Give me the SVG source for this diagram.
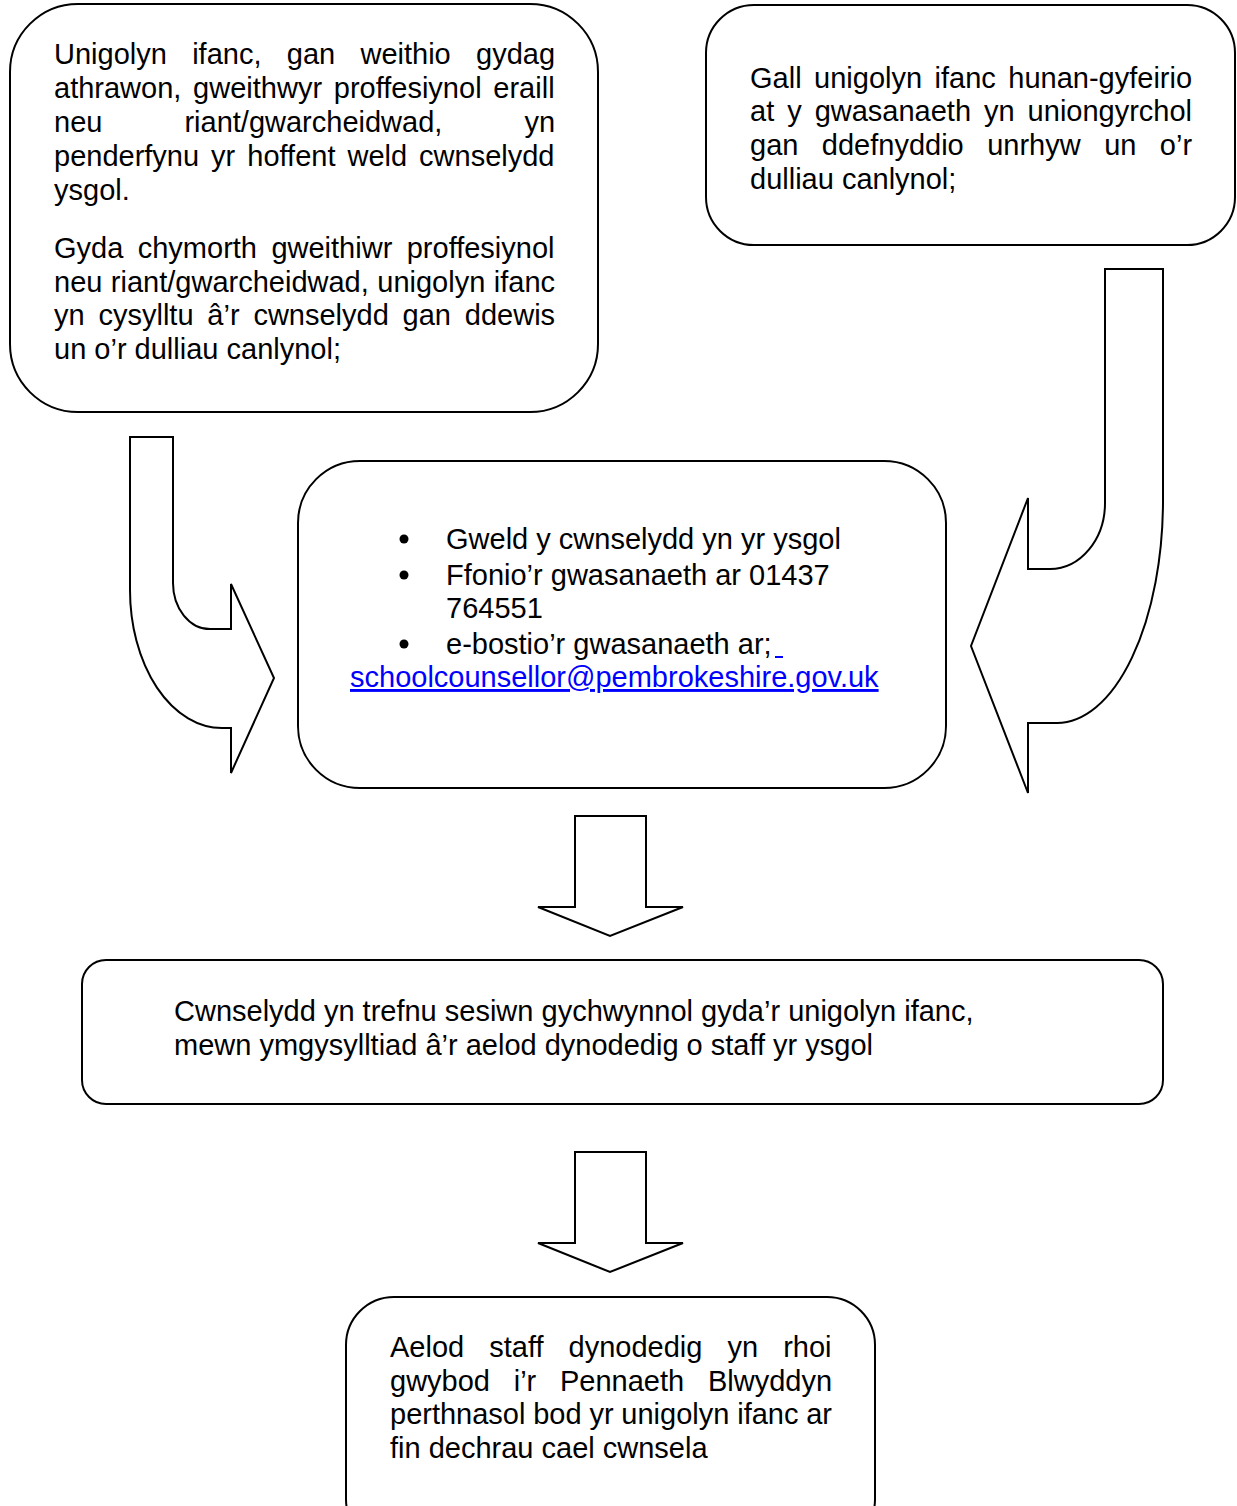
<svg xmlns="http://www.w3.org/2000/svg" width="1237" height="1506" viewBox="0 0 1237 1506">
<style>
.box{fill:#fff;stroke:#000;stroke-width:2}
.arrow{fill:#fff;stroke:#000;stroke-width:2;stroke-linejoin:miter}
text{font-family:"Liberation Sans",Arial,sans-serif;font-size:29px;fill:#000}
.link{fill:#0000ff;text-decoration:underline}
</style>
<rect width="1237" height="1506" fill="#fff"/>
<g id="connectors">
<path class="arrow" d="M130,437 L173,437 L173,583 A37,46 0 0 0 210,629 L231,629 L231,584 L274,678 L231,773 L231,728 L222,728 A92,138 0 0 1 130,590 Z"/>
<path class="arrow" d="M1105,269 L1163,269 L1163,500 A106,223 0 0 1 1057,723 L1028,723 L1028,793 L971,646 L1028,498 L1028,569 L1050,569 A55,66 0 0 0 1105,503 Z"/>
<path class="arrow" d="M575,816 L646,816 L646,907 L683,907 L610,936 L538,907 L575,907 Z"/>
<path class="arrow" d="M575,1152 L646,1152 L646,1243 L683,1243 L610,1272 L538,1243 L575,1243 Z"/>
</g>
<g id="node-young-person">
<rect class="box" x="10" y="4" width="588" height="408" rx="68" ry="68"/>
<text x="54" y="64" word-spacing="17.25">Unigolyn ifanc, gan weithio gydag</text>
<text x="54" y="98" word-spacing="3.7">athrawon, gweithwyr proffesiynol eraill</text>
<text x="54" y="132" word-spacing="74">neu riant/gwarcheidwad, yn</text>
<text x="54" y="166" word-spacing="3.95">penderfynu yr hoffent weld cwnselydd</text>
<text x="54" y="200">ysgol.</text>
<text x="54" y="258" word-spacing="6.37">Gyda chymorth gweithiwr proffesiynol</text>
<text x="54" y="292" word-spacing="0.43">neu riant/gwarcheidwad, unigolyn ifanc</text>
<text x="54" y="325" word-spacing="5.76">yn cysylltu â’r cwnselydd gan ddewis</text>
<text x="54" y="359">un o’r dulliau canlynol;</text>
</g>
<g id="node-self-referral">
<rect class="box" x="706" y="5" width="529" height="240" rx="48" ry="48"/>
<text x="750" y="88" word-spacing="4.43">Gall unigolyn ifanc hunan-gyfeirio</text>
<text x="750" y="121" word-spacing="4.92">at y gwasanaeth yn uniongyrchol</text>
<text x="750" y="155" word-spacing="15.4">gan ddefnyddio unrhyw un o’r</text>
<text x="750" y="189">dulliau canlynol;</text>
</g>
<g id="node-methods">
<rect class="box" x="298" y="461" width="648" height="327" rx="62" ry="62"/>
<circle cx="404" cy="539" r="4.5" fill="#000"/>
<circle cx="404" cy="575" r="4.5" fill="#000"/>
<circle cx="404" cy="644" r="4.5" fill="#000"/>
<text x="446" y="549">Gweld y cwnselydd yn yr ysgol</text>
<text x="446" y="585">Ffonio’r gwasanaeth ar 01437</text>
<text x="446" y="618">764551</text>
<text x="446" y="654">e-bostio’r gwasanaeth ar;</text>
<line x1="775" y1="657" x2="783" y2="657" stroke="#0000ff" stroke-width="2"/>
<text class="link" x="350" y="687">schoolcounsellor@pembrokeshire.gov.uk</text>
</g>
<g id="node-session">
<rect class="box" x="82" y="960" width="1081" height="144" rx="24" ry="24"/>
<text x="174" y="1021">Cwnselydd yn trefnu sesiwn gychwynnol gyda’r unigolyn ifanc,</text>
<text x="174" y="1055">mewn ymgysylltiad â’r aelod dynodedig o staff yr ysgol</text>
</g>
<g id="node-staff">
<rect class="box" x="346" y="1297" width="529" height="250" rx="48" ry="48"/>
<text x="390" y="1357" word-spacing="17">Aelod staff dynodedig yn rhoi</text>
<text x="390" y="1391" word-spacing="15.7">gwybod i’r Pennaeth Blwyddyn</text>
<text x="390" y="1424" word-spacing="-0.26">perthnasol bod yr unigolyn ifanc ar</text>
<text x="390" y="1458">fin dechrau cael cwnsela</text>
</g>
</svg>
